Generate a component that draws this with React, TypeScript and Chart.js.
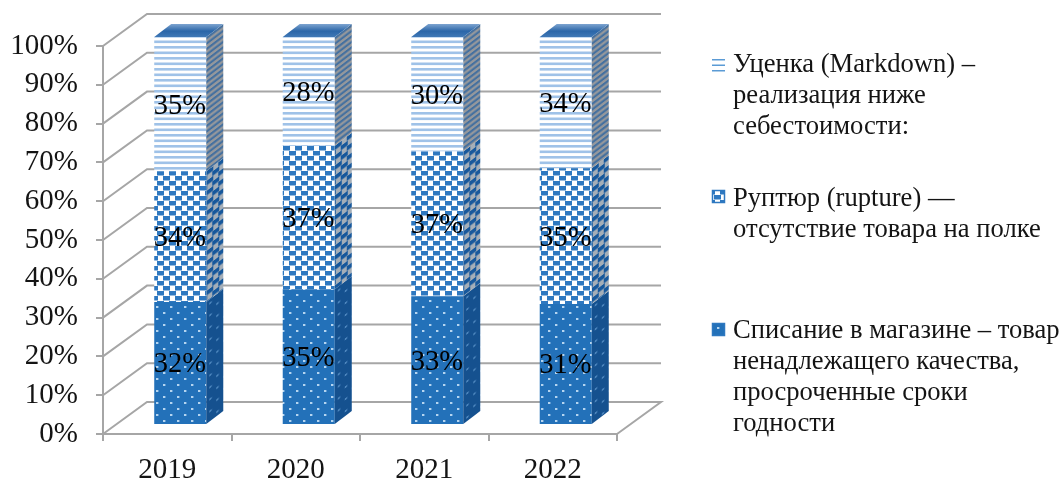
import React, { useEffect, useRef } from "react";
import { Chart, registerables } from "chart.js";

Chart.register(...registerables);

const years = ["2019", "2020", "2021", "2022"];
const writeOff = [31.7, 35, 33.2, 31.2];
const rupture = [33.7, 37, 37.3, 35];
const markdown = [34.6, 28, 29.5, 33.8];

const writeOffLines = ["Списание в магазине – товар", "ненадлежащего качества,", "просроченные сроки", "годности"];
const ruptureLines = ["Руптюр (rupture) —", "отсутствие товара на полке"];
const markdownLines = ["Уценка (Markdown) –", "реализация ниже", "себестоимости:"];

const FONT = '"Liberation Serif", "Times New Roman", serif';
const TEXT = "#141414";
const GRID = "#a6a6a6";
const WALL = { dx: 44, dy: -32 };
const BAR_SHIFT = { dx: 13, dy: -9 };
const DEPTH = { dx: 17, dy: -13 };

function tile(w: number, h: number, paint: (c: CanvasRenderingContext2D) => void) {
  const cv = document.createElement("canvas");
  cv.width = w;
  cv.height = h;
  const c = cv.getContext("2d")!;
  paint(c);
  return document.createElement("canvas").getContext("2d")!.createPattern(cv, "repeat")!;
}

function stripes(bg: string, fg: string, t = 2.6) {
  return tile(4, 11, (c) => {
    c.fillStyle = bg;
    c.fillRect(0, 0, 4, 11);
    c.fillStyle = fg;
    c.fillRect(0, 0, 4, t);
    c.fillRect(0, 5.5, 4, t);
  });
}
function checks(bg: string, fg: string) {
  return tile(12, 10, (c) => {
    c.fillStyle = bg;
    c.fillRect(0, 0, 12, 10);
    c.fillStyle = fg;
    c.fillRect(0, 0, 7, 4.5);
    c.fillRect(6, 5, 7, 4.5);
    c.fillRect(-6, 5, 7, 4.5);
  });
}
function dots(bg: string, fg: string) {
  return tile(14, 12, (c) => {
    c.fillStyle = bg;
    c.fillRect(0, 0, 14, 12);
    c.fillStyle = fg;
    c.fillRect(3, 3, 2.4, 2);
    c.fillRect(10, 9, 2.4, 2);
  });
}

export default function App() {
  const ref = useRef<HTMLCanvasElement>(null);

  useEffect(() => {
    const front = [
      dots("#2371b9", "#b5d5f0"),
      checks("#ffffff", "#2e78c0"),
      stripes("#ffffff", "#9fc2e8"),
    ];
    const side = [
      dots("#15518f", "#4d86bd"),
      checks("#a4aeb8", "#17589c"),
      stripes("#95989c", "#44709f"),
    ];
    const legends = [markdownLines, ruptureLines, writeOffLines];

    const depth3d = {
      id: "depth3d",
      beforeDatasetsDraw(chart: any) {
        const { ctx, chartArea, scales } = chart;
        ctx.save();
        ctx.strokeStyle = GRID;
        ctx.lineWidth = 2;
        scales.y.ticks.forEach((t: any) => {
          const y = scales.y.getPixelForValue(t.value);
          ctx.beginPath();
          ctx.moveTo(chartArea.left, y);
          ctx.lineTo(chartArea.left + WALL.dx, y + WALL.dy);
          ctx.lineTo(chartArea.right + WALL.dx, y + WALL.dy);
          if (t.value === 0) ctx.lineTo(chartArea.right, y);
          ctx.stroke();
        });
        ctx.restore();
        ctx.save();
        ctx.translate(BAR_SHIFT.dx, BAR_SHIFT.dy);
      },
      afterDatasetsDraw(chart: any) {
        const { ctx, data } = chart;
        data.datasets.forEach((_: any, i: number) => {
          chart.getDatasetMeta(i).data.forEach((bar: any) => {
            const right = bar.x + bar.width / 2;
            const h = bar.base - bar.y;
            ctx.save();
            ctx.transform(1, DEPTH.dy / DEPTH.dx, 0, 1, right, bar.y);
            ctx.fillStyle = side[i];
            ctx.fillRect(0, 0, DEPTH.dx, h);
            ctx.restore();
            if (i === data.datasets.length - 1) {
              const left = bar.x - bar.width / 2;
              const g = ctx.createLinearGradient(0, bar.y + DEPTH.dy, 0, bar.y);
              g.addColorStop(0, "#7da4d0");
              g.addColorStop(0.55, "#2b66a8");
              g.addColorStop(1, "#3f78b6");
              ctx.fillStyle = g;
              ctx.beginPath();
              ctx.moveTo(left, bar.y);
              ctx.lineTo(left + DEPTH.dx, bar.y + DEPTH.dy);
              ctx.lineTo(right + DEPTH.dx, bar.y + DEPTH.dy);
              ctx.lineTo(right, bar.y);
              ctx.closePath();
              ctx.fill();
            }
          });
        });
        ctx.restore();

        ctx.save();
        ctx.fillStyle = "#000";
        ctx.font = `28.5px ${FONT}`;
        ctx.textAlign = "center";
        ctx.textBaseline = "middle";
        data.datasets.forEach((ds: any, i: number) => {
          chart.getDatasetMeta(i).data.forEach((bar: any, j: number) => {
            ctx.fillText(
              `${Math.round(ds.data[j])}%`,
              bar.x + BAR_SHIFT.dx - 0.5,
              (bar.y + bar.base) / 2 + BAR_SHIFT.dy + 2,
            );
          });
        });
        ctx.restore();
      },
    };

    const sideLegend = {
      id: "sideLegend",
      afterDraw(chart: any) {
        const { ctx, data } = chart;
        const baselines = [72, 206, 338];
        const markers = [58, 190, 323];
        ctx.save();
        ctx.font = `26.6px ${FONT}`;
        ctx.fillStyle = TEXT;
        ctx.textBaseline = "alphabetic";
        ctx.textAlign = "left";
        legends.forEach((lines, k) => {
          const dsIndex = data.datasets.length - 1 - k;
          const y0 = baselines[k];
          const my = markers[k];
          if (k === 0) {
            ctx.save();
            ctx.fillStyle = "#5b9bd5";
            [1, 6.5, 12].forEach((o) => ctx.fillRect(712, my + o, 13, 1.5));
            ctx.restore();
          } else {
            ctx.save();
            ctx.fillStyle = front[dsIndex];
            ctx.fillRect(712, my, 13, 13);
            ctx.strokeStyle = "#2e78c0";
            ctx.lineWidth = 1.5;
            ctx.strokeRect(712.5, my + 0.5, 12, 12);
            ctx.restore();
          }
          lines.forEach((line, n) => ctx.fillText(line, 733, y0 + n * 31));
        });
        ctx.restore();
      },
    };

    const chart = new Chart(ref.current!, {
      type: "bar",
      data: {
        labels: years,
        datasets: [
          { label: writeOffLines.join(" "), data: writeOff, backgroundColor: front[0] },
          { label: ruptureLines.join(" "), data: rupture, backgroundColor: front[1] },
          { label: markdownLines.join(" "), data: markdown, backgroundColor: front[2] },
        ],
      },
      options: {
        responsive: false,
        animation: false,
        events: [],
        datasets: { bar: { categoryPercentage: 1, barPercentage: 0.405 } },
        layout: { padding: { top: 46, right: 443, left: 0, bottom: 0 } },
        plugins: { legend: { display: false }, tooltip: { enabled: false } },
        scales: {
          x: {
            stacked: true,
            afterFit: (s: any) => { s.height = 45; },
            border: { color: GRID, width: 2 },
            grid: { drawOnChartArea: false, color: GRID, lineWidth: 2, tickLength: 7 },
            ticks: {
              color: TEXT,
              font: { family: FONT, size: 29 },
              padding: 12,
              maxRotation: 0,
            },
          },
          y: {
            stacked: true,
            min: 0,
            max: 100,
            afterFit: (s: any) => { s.width = 103; },
            border: { color: GRID, width: 2 },
            grid: { drawOnChartArea: false, color: GRID, lineWidth: 2, tickLength: 7 },
            ticks: {
              stepSize: 10,
              color: TEXT,
              font: { family: FONT, size: 29 },
              padding: 18,
              callback: (v: any) => `${v}%`,
            },
          },
        },
      },
      plugins: [depth3d, sideLegend],
    } as any);
    return () => chart.destroy();
  }, []);

  return (
    <div style={{ position: "absolute", left: 0, top: 0, width: 1060, height: 479, background: "#fff" }}>
      <canvas ref={ref} width={1060} height={479} style={{ display: "block", filter: "blur(0.5px)" }} />
    </div>
  );
}
